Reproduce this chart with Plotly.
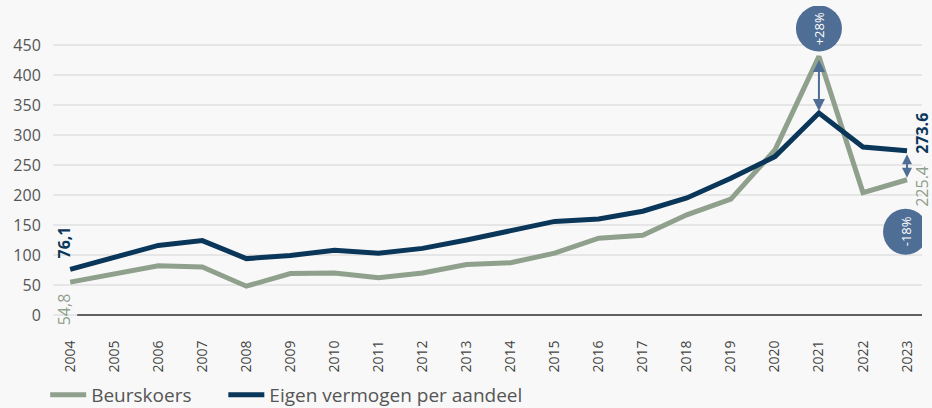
import plotly.graph_objects as go

years = list(range(2004, 2024))
beurskoers = [54.8, 69, 82, 80, 48, 69, 70, 62, 70, 84, 87, 103, 128, 133, 167, 193, 275, 431, 204, 225.4]
eigen_vermogen = [76.1, 96, 116, 124, 94, 99, 108, 103, 111, 125, 141, 156, 160, 173, 195, 228, 264, 336.6, 280, 273.6]
y_ticks = [0, 50, 100, 150, 200, 250, 300, 350, 400, 450]
series_names = ["Beurskoers", "Eigen vermogen per aandeel"]

GREEN = "#8fa08c"
NAVY = "#0a3659"
BADGE = "#4f6e96"
BG = "#f8f8f8"
FONT = "Open Sans"

fig = go.Figure()
fig.add_trace(go.Scatter(x=years, y=beurskoers, name=series_names[0], mode="lines",
                         line=dict(color=GREEN, width=5), legend="legend"))
fig.add_trace(go.Scatter(x=years, y=eigen_vermogen, name=series_names[1], mode="lines",
                         line=dict(color=NAVY, width=5), legend="legend2"))

# baseline
fig.add_shape(type="line", xref="x", yref="y", x0=years[0] + 0.16, x1=years[-1] + 0.34,
              y0=0, y1=0, line=dict(color="#333333", width=1.5), layer="above")

# start labels
fig.add_annotation(x=years[0], y=eigen_vermogen[0], text=f"<b>{eigen_vermogen[0]:.1f}</b>".replace(".", ","),
                   textangle=-90, showarrow=False, xanchor="center", yanchor="bottom",
                   xshift=-6, yshift=9, font=dict(family=FONT, size=16, color=NAVY))
fig.add_annotation(x=years[0], y=beurskoers[0], text=f"{beurskoers[0]:.1f}".replace(".", ","),
                   textangle=-90, showarrow=False, xanchor="center", yanchor="top",
                   xshift=-6, yshift=-9, font=dict(family=FONT, size=16, color=GREEN))

# end labels
fig.add_annotation(x=years[-1], y=eigen_vermogen[-1], text=f"<b>{eigen_vermogen[-1]:.1f}</b>",
                   textangle=-90, showarrow=False, xanchor="center", yanchor="middle",
                   xshift=15, yshift=17, font=dict(family=FONT, size=16, color=NAVY))
fig.add_annotation(x=years[-1], y=beurskoers[-1], text=f"{beurskoers[-1]:.1f}",
                   textangle=-90, showarrow=False, xanchor="center", yanchor="middle",
                   xshift=15, yshift=-7, font=dict(family=FONT, size=16, color=GREEN))

# difference arrows + badges (pixel offsets of each badge relative to the price point)
badges = [
    (years.index(2021), 5, 51, -23, 23, 1.2),
    (years.index(2023), -75, -29, -24, 21, 1.0),
]
for i, y0, y1, x0, x1, asize in badges:
    xv = years[i]
    b, e = beurskoers[i], eigen_vermogen[i]
    pct = round((b / e - 1) * 100)
    txt = f"{pct:+d}%"
    fig.add_annotation(x=xv, y=min(b, e), ax=xv, ay=max(b, e), axref="x", ayref="y",
                       text="", showarrow=True, arrowside="end+start", arrowhead=2,
                       arrowsize=asize, arrowwidth=2, arrowcolor=BADGE,
                       standoff=2, startstandoff=2)
    fig.add_shape(type="circle", xref="x", yref="y", xsizemode="pixel", ysizemode="pixel",
                  xanchor=xv, yanchor=b, x0=x0, x1=x1, y0=y0, y1=y1,
                  fillcolor=BADGE, line=dict(width=0), layer="above")
    fig.add_annotation(x=xv, y=b, text=txt, textangle=-90, showarrow=False,
                       xanchor="center", yanchor="middle",
                       xshift=(x0 + x1) / 2, yshift=(y0 + y1) / 2,
                       font=dict(family=FONT, size=13, color="white"))

legend_common = dict(orientation="h", xanchor="left", yref="container", y=0.032,
                     yanchor="middle", font=dict(family=FONT, size=19, color="#555555"),
                     bgcolor="rgba(0,0,0,0)", itemwidth=36)
fig.update_layout(
    width=932, height=408,
    margin=dict(l=53, r=10, t=6, b=84, autoexpand=False),
    paper_bgcolor=BG, plot_bgcolor=BG,
    font=dict(family=FONT, color="#555555"),
    showlegend=True,
    legend=dict(x=-0.009, **legend_common),
    legend2=dict(x=0.196, **legend_common),
)
fig.update_xaxes(range=[years[0] - 0.39, years[-1] + 0.34], tickvals=years,
                 ticktext=[str(y) for y in years], tickangle=-90,
                 tickfont=dict(family=FONT, size=14, color="#444444"),
                 showgrid=False, zeroline=False, showline=False, automargin=False,
                 ticks="outside", ticklen=10, tickcolor="rgba(0,0,0,0)")
fig.update_yaxes(range=[-15, 515], tickvals=y_ticks,
                 tickfont=dict(family=FONT, size=16, color="#555555"),
                 showgrid=True, gridcolor="#e6e6e6", gridwidth=1.5,
                 zeroline=False, showline=False, automargin=False,
                 ticks="outside", ticklen=8, tickcolor="rgba(0,0,0,0)")

fig.write_html("out.html", config={"displayModeBar": False},
               post_script="document.body.style.margin='0';document.body.style.overflow='hidden';")
